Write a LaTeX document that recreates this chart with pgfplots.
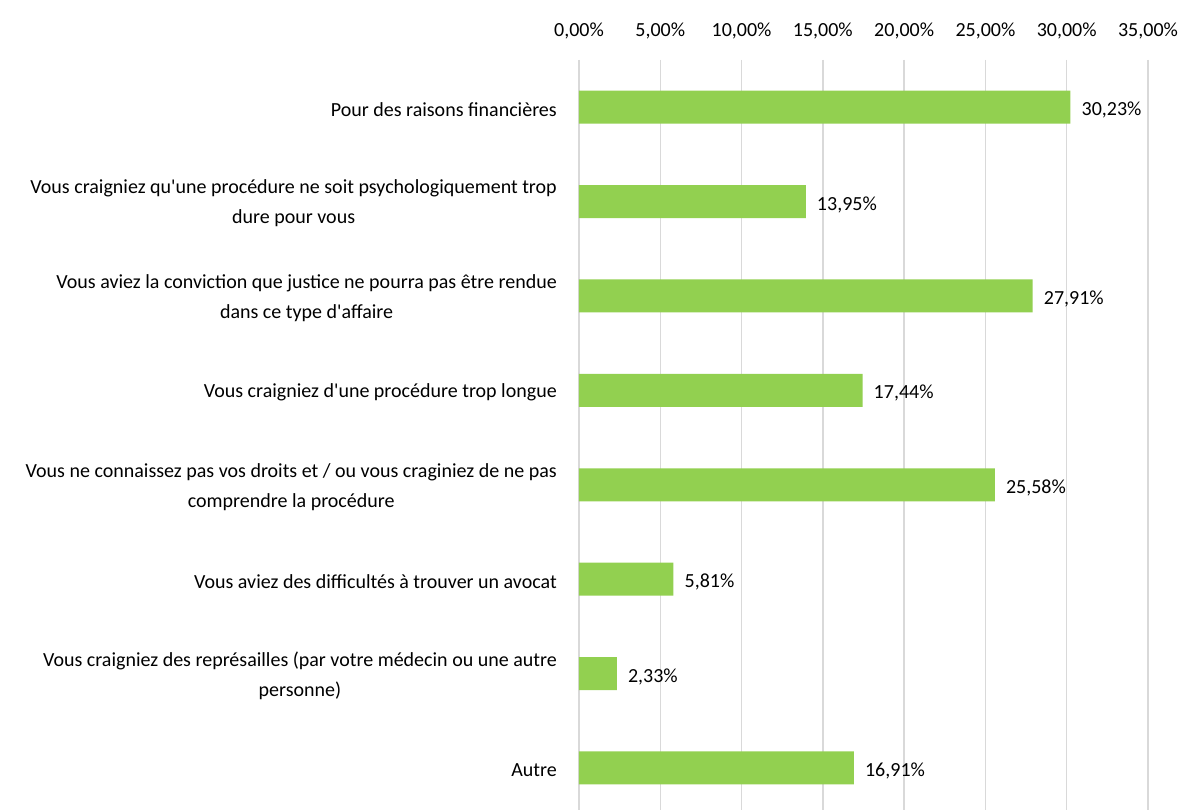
\documentclass[border=0pt]{standalone}
\usepackage{fontspec}
\setmainfont{Carlito}
\usepackage{pgfplots}
\pgfplotsset{compat=1.18}
\definecolor{bargreen}{HTML}{92D050}
\definecolor{gridgray}{HTML}{D9D9D9}
\begin{document}
\fontsize{20}{30}\selectfont
\begin{tikzpicture}[x=1pt,y=1pt]
\path[use as bounding box] (0,0) rectangle (1181,810);
\begin{axis}[
 at={(579pt,0pt)}, anchor=south west,
 scale only axis, width=569pt, height=750pt,
 xbar, bar width=33pt,
 xmin=0, xmax=35,
 ymin=-0.5, ymax=7.445, y dir=reverse,
 axis line style={draw=none},
 xtick={0,5,...,35},
 xticklabels={{0,00\%},{5,00\%},{10,00\%},{15,00\%},{20,00\%},{25,00\%},{30,00\%},{35,00\%}},
 xticklabel pos=upper,
 xmajorgrids, grid style={gridgray, line width=1.4pt},
 major tick length=0pt,
 ytick={0,...,7},
 yticklabels={
  {Pour des raisons financières},
  {Vous craigniez qu\textquotesingle une procédure ne soit psychologiquement trop\\dure pour vous},
  {Vous aviez la conviction que justice ne pourra pas être rendue\\dans ce type d\textquotesingle affaire},
  {Vous craigniez d\textquotesingle une procédure trop longue},
  {Vous ne connaissez pas vos droits et / ou vous craginiez de ne pas\\comprendre la procédure},
  {Vous aviez des difficultés à trouver un avocat},
  {Vous craigniez des représailles (par votre médecin ou une autre\\personne)},
  {Autre}},
 yticklabel style={align=center, inner sep=0pt, xshift=-22pt, yshift=-2pt, font=\fontsize{20}{30}\selectfont, text=black},
 xticklabel style={anchor=south, inner sep=0pt, yshift=21pt, font=\fontsize{20}{24}\selectfont, text=black},
 point meta=x,
 nodes near coords={\pgfmathprintnumber[fixed,fixed zerofill,precision=2,use comma,assume math mode=true]{\pgfplotspointmeta}\%},
 nodes near coords style={anchor=west, inner sep=0pt, xshift=11pt, yshift=-3pt, text=black, font=\fontsize{20}{24}\selectfont},
 clip=false,
]
\addplot[fill=bargreen, draw=none] coordinates {
 (30.23,0) (13.95,1) (27.91,2) (17.44,3) (25.58,4) (5.81,5) (2.33,6) (16.91,7)
};
\end{axis}
\end{tikzpicture}
\end{document}
